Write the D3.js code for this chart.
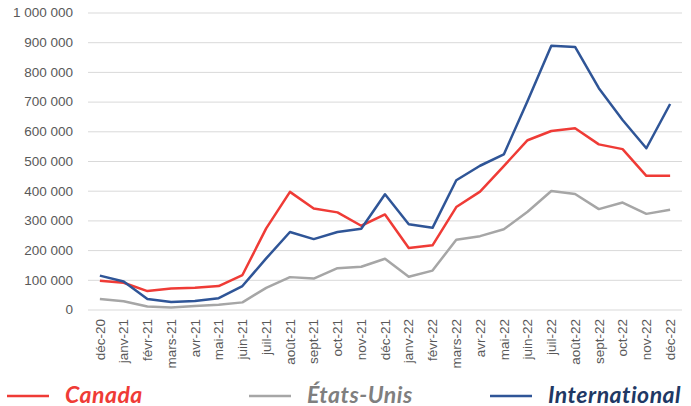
<!DOCTYPE html>
<html>
<head>
<meta charset="utf-8">
<script src="https://cdn.jsdelivr.net/npm/d3@7"></script>
<style>
  body { margin: 0; background: #fff; }
</style>
</head>
<body>
<script>
// months on the x axis
const months = ["déc-20","janv-21","févr-21","mars-21","avr-21","mai-21","juin-21","juil-21",
  "août-21","sept-21","oct-21","nov-21","déc-21","janv-22","févr-22","mars-22","avr-22",
  "mai-22","juin-22","juil-22","août-22","sept-22","oct-22","nov-22","déc-22"];

// series values
const canada = [97000, 90000, 62000, 71000, 73000, 79000, 116000, 273000, 396000, 340000,
  327000, 282000, 320000, 207000, 216000, 345000, 397000, 483000, 570000, 601000, 610000,
  556000, 540000, 450000, 450000];
const etatsUnis = [35000, 28000, 10000, 7000, 12000, 16000, 24000, 73000, 109000, 104000,
  139000, 144000, 171000, 110000, 131000, 235000, 247000, 270000, 329000, 399000, 389000,
  338000, 360000, 322000, 336000];
const international = [114000, 94000, 35000, 25000, 29000, 38000, 79000, 172000, 261000, 237000,
  261000, 272000, 388000, 287000, 275000, 435000, 484000, 522000, 702000, 888000, 884000,
  745000, 638000, 543000, 692000];

const yTicks = [0, 100000, 200000, 300000, 400000, 500000, 600000, 700000, 800000, 900000, 1000000];

const seriesNames = ["Canada", "États-Unis", "International"];
const seriesColors = ["#EF3B36", "#A6A6A6", "#2F5597"];
const legendTextColors = ["#EF3B36", "#7F7F7F", "#203864"];

function main(){
  const W = 691, H = 406;
  const svg = d3.select("body").append("svg")
    .attr("width", W).attr("height", H);

  const x = d3.scalePoint().domain(months).range([88, 682]).padding(0.5);
  const y = d3.scaleLinear().domain([0, 1000000]).range([309.5, 12.5]);

  const fr = d3.formatLocale({decimal: ",", thousands: " ", grouping: [3], currency: ["", ""]});
  const fmt = fr.format(",");

  // gridlines + y labels
  const yAxis = svg.append("g")
    .attr("transform", "translate(88,0)")
    .call(d3.axisLeft(y).tickValues(yTicks).tickFormat(fmt).tickSize(-(682 - 88)).tickPadding(15));
  yAxis.select(".domain").remove();
  yAxis.selectAll(".tick line").attr("stroke", "#D9D9D9").attr("stroke-width", 1);
  yAxis.selectAll(".tick text")
    .attr("fill", "#595959")
    .style("font-family", "'Liberation Sans', Arial, sans-serif")
    .style("font-size", "13.5px");

  // x labels, rotated
  svg.append("g").selectAll("text")
    .data(months)
    .join("text")
    .attr("transform", d => `translate(${x(d)},319) rotate(-90)`)
    .attr("dy", "0.35em")
    .attr("text-anchor", "end")
    .attr("fill", "#595959")
    .style("font-family", "'Liberation Sans', Arial, sans-serif")
    .style("font-size", "13.5px")
    .text(d => d);

  // lines
  const line = d3.line().x((d, i) => x(months[i])).y(d => y(d));
  [canada, etatsUnis, international].forEach((s, k) => {
    svg.append("path")
      .datum(s)
      .attr("fill", "none")
      .attr("stroke", seriesColors[k])
      .attr("stroke-width", 2.5)
      .attr("stroke-linejoin", "round")
      .attr("d", line);
  });

  // legend
  const legendX = [7, 249, 490];
  const lg = svg.append("g").attr("transform", "translate(0,396)");
  seriesNames.forEach((name, k) => {
    lg.append("line")
      .attr("x1", legendX[k]).attr("x2", legendX[k] + 42)
      .attr("y1", 0).attr("y2", 0)
      .attr("stroke", seriesColors[k])
      .attr("stroke-width", 2.5);
    lg.append("text")
      .attr("x", legendX[k] + 58)
      .attr("y", 6.5)
      .attr("fill", legendTextColors[k])
      .style("font-family", "Lato, sans-serif")
      .style("font-weight", "bold")
      .style("font-style", "italic")
      .style("font-size", "23px")
      .style("letter-spacing", "0.5px")
      .text(name);
  });
}

main();
</script>
</body>
</html>
